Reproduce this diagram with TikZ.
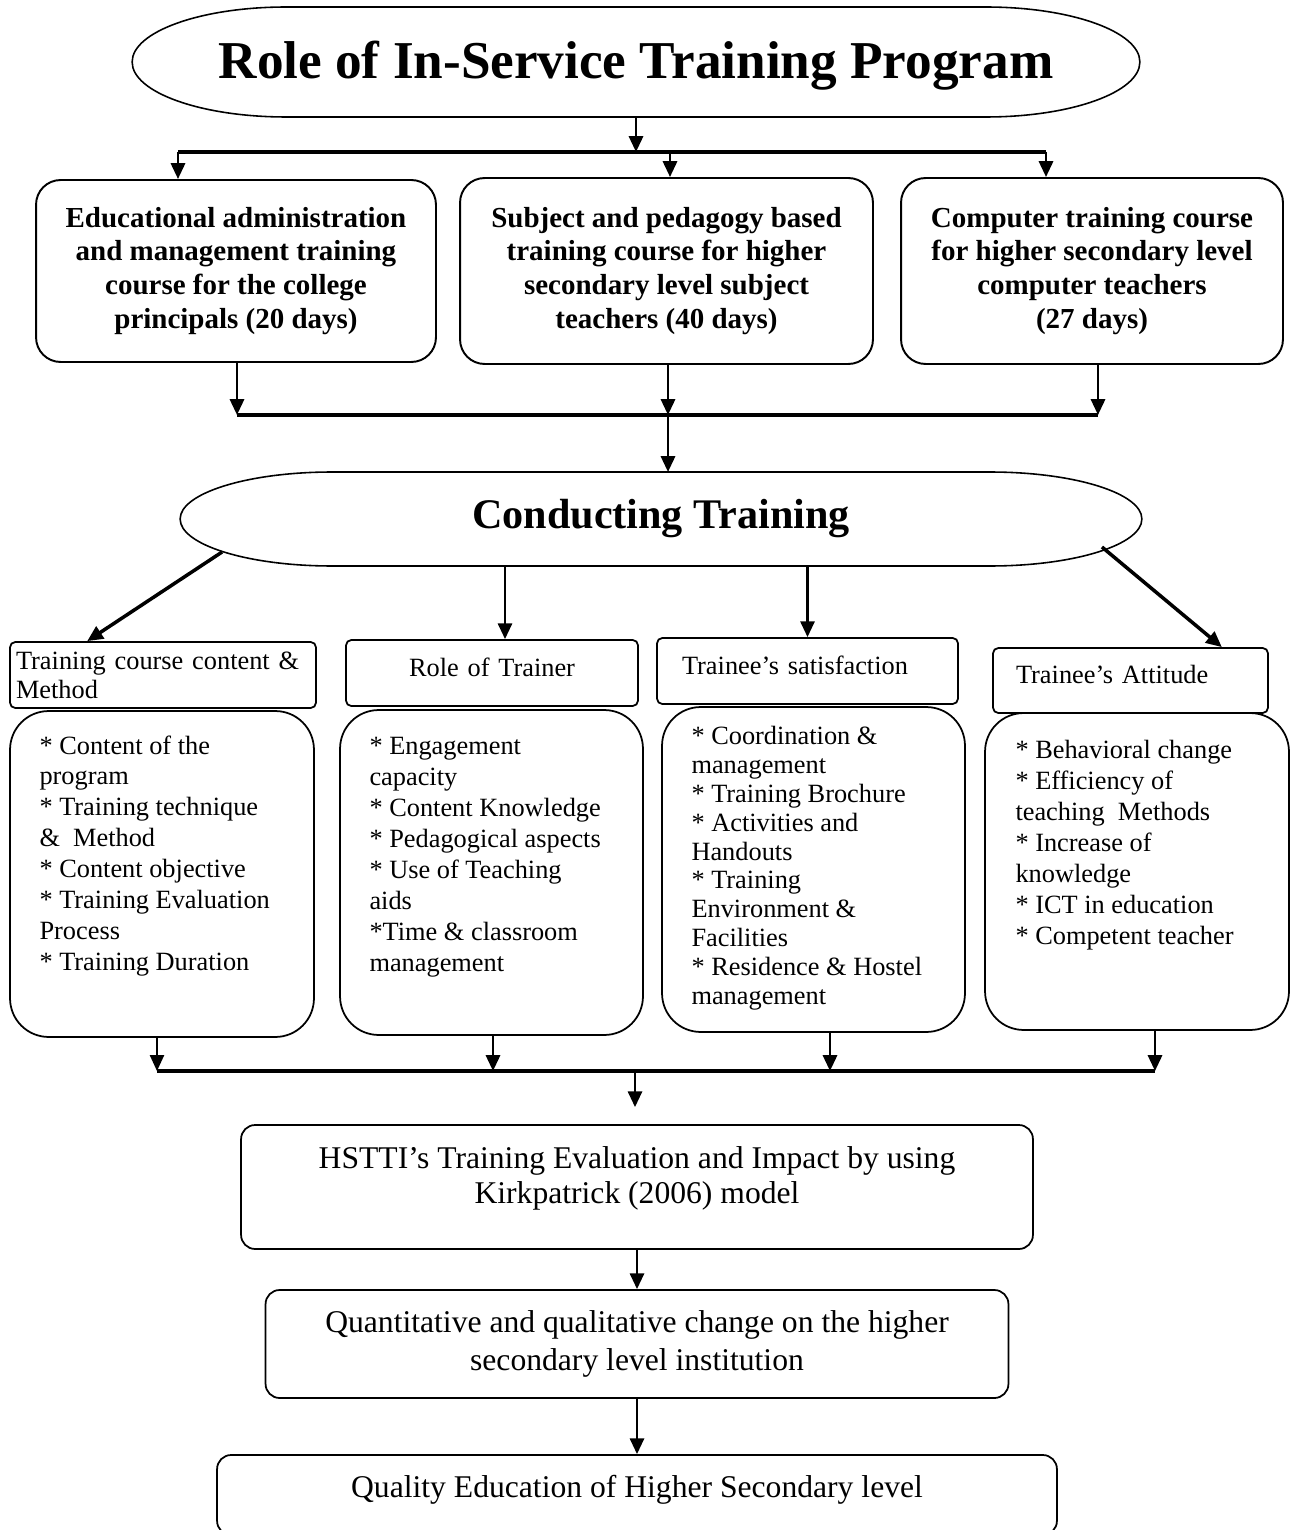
\documentclass[tikz,border=0pt]{standalone}
\usepackage{fontspec}
\setmainfont{Liberation Serif}
\usetikzlibrary{arrows.meta, positioning, calc}

\begin{document}
\begin{tikzpicture}[
    x=0.02cm, y=-0.02cm,
    oval/.style={line width=0.9pt},
    ovaltxt/.style={rectangle, inner sep=0pt, outer sep=0pt},
    course/.style={rectangle, draw, line width=1.1pt, rounded corners=14pt, align=center, inner sep=2pt, font=\fontsize{16.5}{19.3}\selectfont\bfseries},
    head/.style={rectangle, draw, line width=1pt, rounded corners=3pt, inner ysep=0pt, font=\fontsize{15}{16.4}\selectfont},
    list/.style={rectangle, draw, line width=1pt, rounded corners=22pt},
    listtxt/.style={anchor=north west, align=left, inner sep=0pt, font=\fontsize{15}{17.6}\selectfont},
    result/.style={rectangle, draw, line width=1pt, rounded corners=8pt, align=center, font=\fontsize{18}{20}\selectfont},
    arrow/.style={-{Triangle[length=9pt, width=8pt]}, line width=1.6pt},
    busline/.style={line width=2pt}
]

\useasboundingbox (0,0) rectangle (1296,1530);
\clip (0,0) rectangle (1296,1530);

% Title oval
\node[ovaltxt, minimum width=20.16cm, minimum height=2.2cm, text height=26pt, font=\fontsize{30.3}{34}\selectfont\bfseries] (title) at (636,62) {Role of In-Service Training Program};
\draw[oval] ($(title.north west)+(154,0)$) -- ($(title.north east)+(-154,0)$)
    arc[start angle=90, end angle=-90, x radius=3.08cm, y radius=1.1cm]
    -- ($(title.south west)+(154,0)$)
    arc[start angle=270, end angle=90, x radius=3.08cm, y radius=1.1cm] -- cycle;

% Courses
\node[course, minimum width=8cm, minimum height=3.64cm] (admin) at (236,271) {Educational administration\\and management training\\course for the college\\principals (20 days)};
\node[course, minimum width=8.26cm, minimum height=3.72cm] (subject) at (666.5,271) {Subject and pedagogy based\\training course for higher\\secondary level subject\\teachers (40 days)};
\node[course, minimum width=7.64cm, minimum height=3.72cm] (computer) at (1092,271) {Computer training course\\for higher secondary level\\computer teachers\\(27 days)};

\coordinate (t1) at (178,152);
\coordinate (t2) at (670,152);
\coordinate (t3) at (1046,152);
\draw[arrow] (title.south) -- (title.south |- t1);
\draw[busline] (t1) -- (t3);
\draw[arrow] (t1) -- (t1 |- admin.north);
\draw[arrow] (t2) -- (t2 |- subject.north);
\draw[arrow] (t3) -- (t3 |- computer.north);

% Conducting oval
\node[ovaltxt, minimum width=19.24cm, minimum height=1.88cm, font=\fontsize{24}{28}\selectfont\bfseries] (conduct) at (661,519) {Conducting Training};
\draw[oval] ($(conduct.north west)+(152,0)$) -- ($(conduct.north east)+(-152,0)$)
    arc[start angle=90, end angle=-90, x radius=3.04cm, y radius=0.94cm]
    -- ($(conduct.south west)+(152,0)$)
    arc[start angle=270, end angle=90, x radius=3.04cm, y radius=0.94cm] -- cycle;

\coordinate (u1) at (237,415);
\coordinate (u2) at (668,415);
\coordinate (u3) at (1098,415);
\draw[arrow] (admin.south -| u1) -- (u1);
\draw[arrow] (subject.south -| u2) -- (u2);
\draw[arrow] (computer.south -| u3) -- (u3);
\draw[busline] (u1) -- (u3);
\draw[arrow] (u2) -- (u2 |- conduct.north);

% Aspects
\node[head, minimum width=6.12cm, minimum height=1.32cm, inner xsep=0.12cm, text width=5.88cm, align=left] (h1) at (163,675) {Training course content \&\\Method};
\node[head, minimum width=5.84cm, minimum height=1.32cm, inner xsep=0cm, text width=5.84cm, align=center, text depth=7pt] (h2) at (492,673) {Role of Trainer};
\node[head, minimum width=6.02cm, minimum height=1.32cm, inner xsep=0.5cm, text width=5.02cm, align=left, text depth=7pt] (h3) at (807.5,671) {Trainee's satisfaction};
\node[head, minimum width=5.5cm, minimum height=1.3cm, inner xsep=0.46cm, text width=4.58cm, align=left, text depth=7pt] (h4) at (1130.5,680.5) {Trainee's Attitude};

\draw[arrow, line width=2pt] ($(conduct.south west)+(42,-14)$) -- ($(h1.north west)+(78,0)$);
\draw[arrow] ($(conduct.south -| h2.north)+(13,0)$) -- ($(h2.north)+(13,0)$);
\draw[arrow] (conduct.south -| h3.north) -- (h3.north);
\draw[arrow, line width=2pt] ($(conduct.south east)+(-40,-19)$) -- ($(h4.north east)+(-47,0)$);

% Item lists
\node[list, minimum width=6.08cm, minimum height=6.52cm] (b1) at (162,874) {};
\node[listtxt] (b1txt) at ($(b1.north west)+(30,25)$) {* Content of the\\program\\* Training technique\\\&~~Method\\* Content objective\\* Training Evaluation\\Process\\* Training Duration};
\node[list, minimum width=6.06cm, minimum height=6.5cm] (b2) at (491.5,872.5) {};
\node[listtxt] (b2txt) at ($(b2.north west)+(30,28)$) {* Engagement\\capacity\\* Content Knowledge\\* Pedagogical aspects\\* Use of Teaching\\aids\\*Time \& classroom\\management};
\node[list, minimum width=6.06cm, minimum height=6.5cm] (b3) at (813.5,869.5) {};
\node[listtxt, font=\fontsize{15}{16.4}\selectfont] (b3txt) at ($(b3.north west)+(30,20)$) {* Coordination \&\\management\\* Training Brochure\\* Activities and\\Handouts\\* Training\\Environment \&\\Facilities\\* Residence \& Hostel\\management};
\node[list, minimum width=6.08cm, minimum height=6.34cm] (b4) at (1137,871.5) {};
\node[listtxt] (b4txt) at ($(b4.north west)+(31,28)$) {* Behavioral change\\* Efficiency of\\teaching~~Methods\\* Increase of\\knowledge\\* ICT in education\\* Competent teacher};

\coordinate (m1) at (157,1071);
\coordinate (m2) at (493,1071);
\coordinate (m3) at (830,1071);
\coordinate (m4) at (1155,1071);
\coordinate (m0) at (635,1071);
\draw[arrow, line width=1pt] (b1.south -| m1) -- (m1);
\draw[arrow] (b2.south -| m2) -- (m2);
\draw[arrow] (b3.south -| m3) -- (m3);
\draw[arrow] (b4.south -| m4) -- (m4);
\draw[busline] (m1) -- (m4);

% Outcomes
\node[result, minimum width=15.84cm, minimum height=2.48cm, text depth=14pt] (eval) at (637,1187) {HSTTI's Training Evaluation and Impact by using\\Kirkpatrick (2006) model};
\node[result, minimum width=14.86cm, minimum height=2.16cm, font=\fontsize{18}{21.5}\selectfont] (quant) at (637,1344) {Quantitative and qualitative change on the higher\\secondary level institution};
\node[result, minimum width=16.8cm, minimum height=1.6cm, text depth=10pt] (quality) at (637,1495) {Quality Education of Higher Secondary level};

\draw[arrow, shorten >=0.34cm] (m0) -- (m0 |- eval.north);
\draw[arrow] (eval) -- (quant);
\draw[arrow] (quant) -- (quality);

\end{tikzpicture}
\end{document}
